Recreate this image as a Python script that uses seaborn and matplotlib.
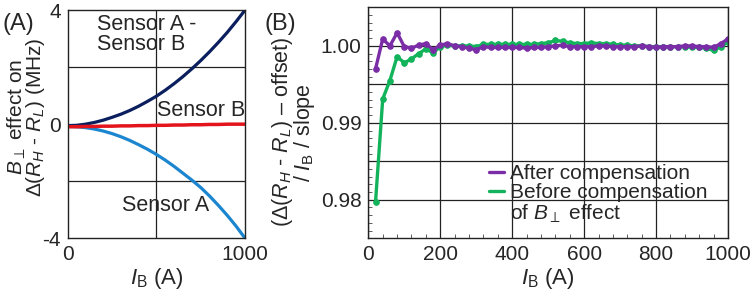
import numpy as np
import pandas as pd
import seaborn as sns
import matplotlib.pyplot as plt
from matplotlib.lines import Line2D

# ---- data, panel A (every 50 A)
ib_a = [0, 50, 100, 150, 200, 250, 300, 350, 400, 450, 500,
        550, 600, 650, 700, 750, 800, 850, 900, 950, 1000]
diff_ab = [-0.05, -0.04, 0.0, 0.06, 0.14, 0.24, 0.35, 0.48, 0.63, 0.80, 0.98,
           1.19, 1.42, 1.67, 1.94, 2.23, 2.54, 2.87, 3.22, 3.60, 4.0]
sensor_a = [-0.08, -0.09, -0.12, -0.17, -0.24, -0.33, -0.44, -0.57, -0.72, -0.88, -1.06,
            -1.26, -1.48, -1.72, -1.96, -2.22, -2.52, -2.85, -3.20, -3.58, -4.0]
sensor_b = [-0.09, -0.09, -0.08, -0.08, -0.07, -0.07, -0.06, -0.06, -0.05, -0.05, -0.04,
            -0.04, -0.03, -0.03, -0.02, -0.02, -0.01, -0.01, 0.0, 0.0, 0.0]

# ---- data, panel B (every 20 A)
ib_b = list(range(20, 1001, 20))
after = [0.9970, 1.0009, 1.0000, 1.0017, 0.9999, 0.9997, 1.0001, 1.0003, 0.9995, 1.0001,
         1.0003, 1.0000, 0.9999, 0.9997, 0.9995, 0.9999, 0.9998, 0.9998, 0.9998, 0.9998,
         0.9998, 0.9997, 0.9998, 0.9998, 0.9999, 1.0000, 1.0001, 0.9999, 0.9999, 0.9999,
         0.9999, 1.0000, 1.0000, 0.9999, 0.9999, 0.9999, 0.9999, 1.0000, 0.9999, 0.9998,
         0.9999, 0.9999, 0.9999, 1.0000, 1.0000, 0.9999, 0.9999, 0.9998, 1.0003, 1.0009]
before = [0.9797, 0.9931, 0.9955, 0.9986, 0.9978, 0.9983, 0.9990, 0.9996, 0.9991, 0.9999,
          1.0001, 1.0000, 1.0000, 1.0000, 0.9999, 1.0002, 1.0002, 1.0002, 1.0002, 1.0002,
          1.0002, 1.0002, 1.0002, 1.0003, 1.0004, 1.0007, 1.0006, 1.0004, 1.0003, 1.0003,
          1.0004, 1.0003, 1.0003, 1.0002, 1.0001, 1.0001, 1.0000, 1.0000, 0.9999, 0.9999,
          0.9999, 0.9999, 0.9999, 0.9999, 0.9998, 0.9998, 0.9997, 0.9994, 0.9999, 1.0005]

sns.set_style("ticks")
plt.rcParams['font.family'] = ['Liberation Sans', 'DejaVu Sans']
plt.rcParams['mathtext.fontset'] = 'custom'
plt.rcParams['mathtext.rm'] = 'Liberation Sans'
plt.rcParams['mathtext.it'] = 'Liberation Sans:italic'
plt.rcParams['mathtext.bf'] = 'Liberation Sans:bold'
plt.rcParams['font.size'] = 15

fig = plt.figure(figsize=(7.54, 2.96), dpi=100)
ax1 = fig.add_axes([0.0898, 0.195, 0.2352, 0.771])
ax2 = fig.add_axes([0.4885, 0.195, 0.477, 0.780])

navy = '#0b1e5e'
lblue = '#1b86cf'
red = '#e3141b'
purple = '#7a2da6'
green = '#12b35a'

# ---- panel A
da = pd.DataFrame({'ib': ib_a, 'ab': diff_ab, 'a': sensor_a, 'b': sensor_b})
sns.lineplot(data=da, x='ib', y='ab', color=navy, lw=2.3, ax=ax1)
sns.lineplot(data=da, x='ib', y='a', color=lblue, lw=2.3, ax=ax1)
sns.lineplot(data=da, x='ib', y='b', color=red, lw=2.5, ax=ax1)
ax1.set_xlim(0, 1000)
ax1.set_ylim(-4, 4)
ax1.set_xticks([0, 1000])
ax1.set_yticks([-4, 0, 4])
ax1.set_yticklabels(['-4', '0', '4'])
for y in [-2, 2]:
    ax1.axhline(y, color='#222222', lw=0.9, zorder=0)
ax1.axvline(500, color='#222222', lw=0.9, zorder=0)
ax1.tick_params(length=0, pad=5, labelsize=15)
ax1.set_xlabel(r'$I_\mathrm{B}$ (A)', fontsize=16, labelpad=1)
ax1.set_ylabel('$B_\\perp$ effect on\n$\\Delta(R_H$ - $R_L)$ (MHz)', fontsize=15,
               linespacing=0.8)
ax1.yaxis.set_label_coords(-0.115, 0.53)
ax1.text(165, 3.15, 'Sensor A -\nSensor B', va='center', linespacing=0.95, fontsize=15.5)
ax1.text(504, 0.49, 'Sensor B', va='center', fontsize=15.5)
ax1.text(307, -2.84, 'Sensor A', va='center', fontsize=15.5)
for s in ax1.spines.values():
    s.set_linewidth(1.0)
    s.set_color('#222222')

# ---- panel B
db = pd.DataFrame({'ib': ib_b, 'after': after, 'before': before})
sns.lineplot(data=db, x='ib', y='before', color=green, lw=2.4, marker='o', ms=4,
             mec=green, ax=ax2)
sns.lineplot(data=db, x='ib', y='after', color=purple, lw=2.4, marker='o', ms=4,
             mec=purple, ax=ax2)
ax2.set_xlim(0, 1000)
ax2.set_ylim(0.975, 1.005)
ax2.set_xticks([0, 200, 400, 600, 800, 1000])
ax2.set_xticklabels(['0', '200', '400', '600', '800', '1000'])
ax2.set_xticks(np.arange(0, 1001, 40), minor=True)
ax2.set_yticks([0.98, 0.985, 0.99, 0.995, 1.0])
ax2.set_yticklabels(['0.98', '', '0.99', '', '1.00'])
ax2.set_yticks(np.arange(0.975, 1.0051, 0.001), minor=True)
ax2.grid(True, which='major', color='#222222', lw=0.9)
ax2.tick_params(which='major', length=0, pad=5, labelsize=15)
ax2.tick_params(which='minor', direction='in', length=3, color='#444444')
ax2.set_xlabel(r'$I_\mathrm{B}$ (A)', fontsize=16, labelpad=1)
ax2.set_ylabel('$(\\mathit{\\Delta}(R_H$ - $R_L)$ – offset)\n/ $I_\\mathrm{B}$ / slope',
               fontsize=15.5, linespacing=0.85)
ax2.yaxis.set_label_coords(-0.143, 0.46)
handles = [Line2D([], [], color=purple, lw=2.4),
           Line2D([], [], color=green, lw=2.4),
           Line2D([], [], color='none')]
labels = ['After compensation', 'Before compensation', 'of $B_\\perp$ effect']
ax2.legend(handles, labels, loc='upper left', bbox_to_anchor=(0.335, 0.32),
           frameon=False, fontsize=15, handlelength=0.75, handletextpad=0.25,
           labelspacing=0.0, borderpad=0, borderaxespad=0)
for s in ax2.spines.values():
    s.set_linewidth(1.0)
    s.set_color('#222222')

fig.text(0.003, 0.9, '(A)', fontsize=17)
fig.text(0.351, 0.9, '(B)', fontsize=17)

fig.savefig('out.png', dpi=100)
